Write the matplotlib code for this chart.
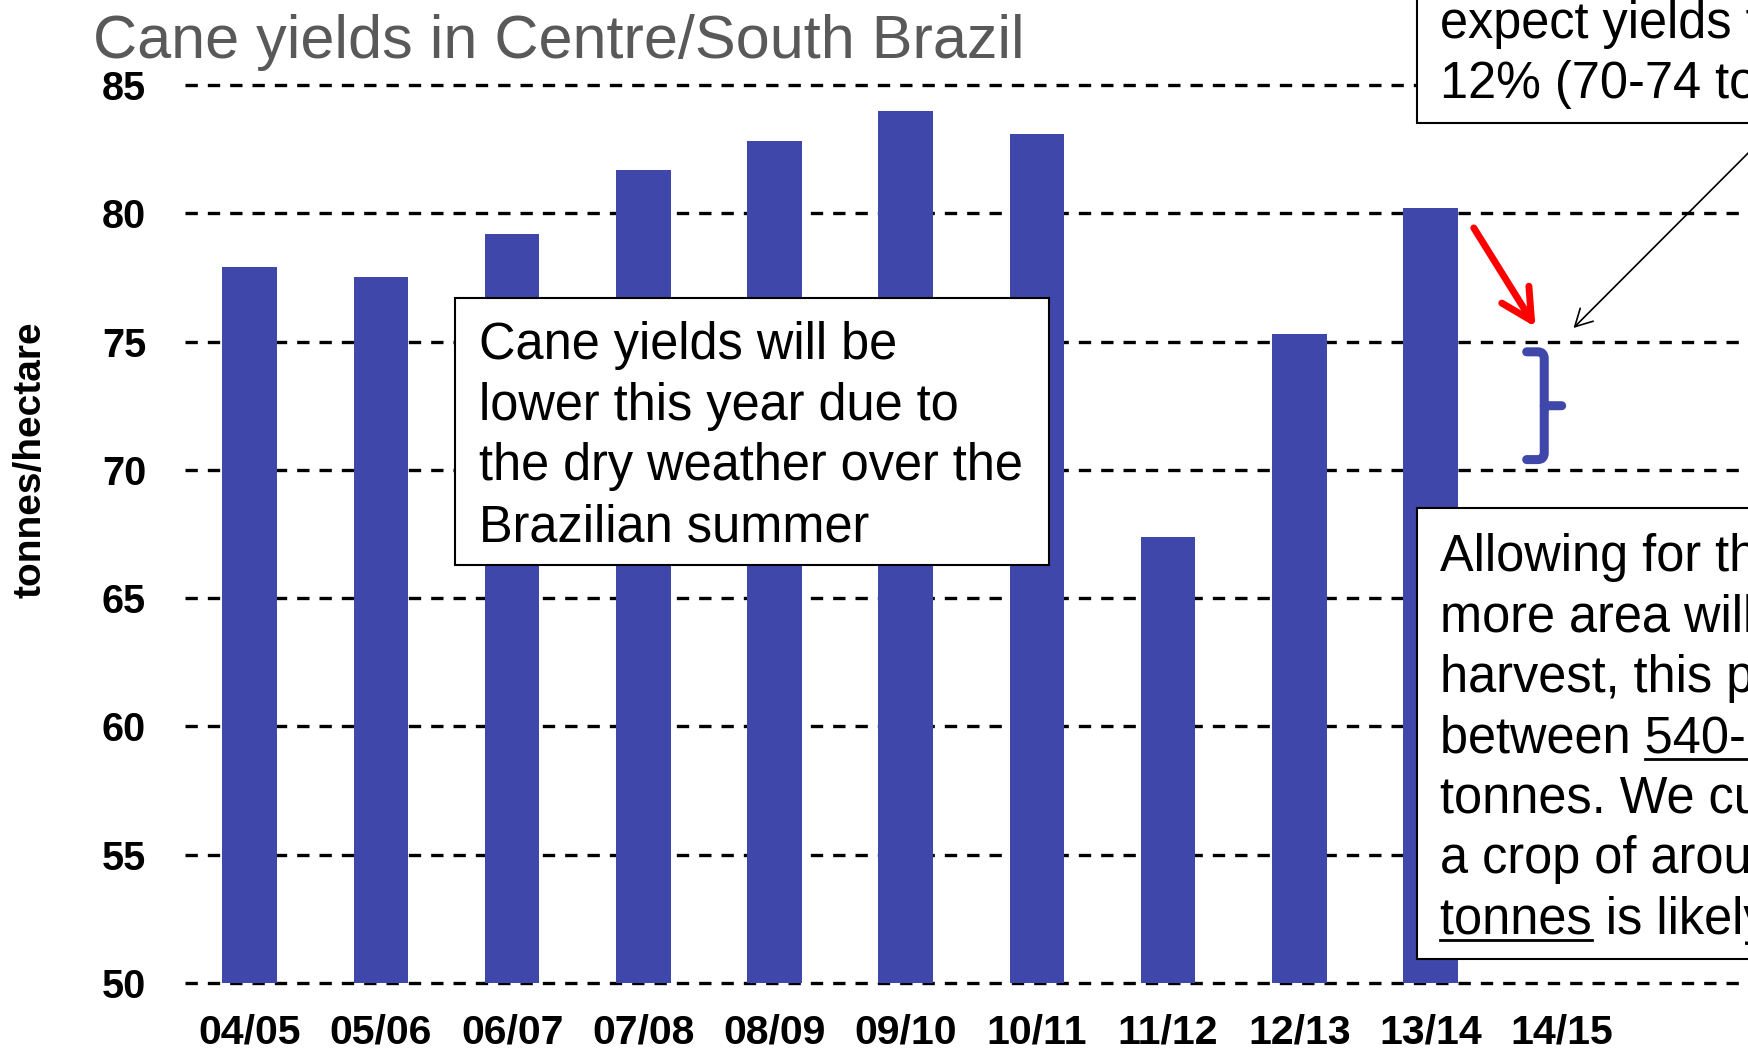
import numpy as np
import matplotlib
matplotlib.use("Agg")
import matplotlib.pyplot as plt
from matplotlib.patches import Rectangle, PathPatch
from matplotlib.path import Path
from matplotlib.lines import Line2D

plt.rcParams["font.family"] = ["Liberation Sans", "DejaVu Sans"]

# Centre/South Brazil cane yields (tonnes/hectare) by crop season
seasons = ["04/05", "05/06", "06/07", "07/08", "08/09", "09/10",
           "10/11", "11/12", "12/13", "13/14", "14/15"]
yields = [77.9, 77.5, 79.2, 81.7, 82.8, 84.0, 83.1, 67.4, 75.3, 80.2]
y_ticks = [50, 55, 60, 65, 70, 75, 80, 85]
brace_span = (70.4, 74.6)   # 14/15 forecast band (70-74 t/ha)

BAR_COLOR = "#3F48AA"
W, H = 1748, 1050

fig = plt.figure(figsize=(W / 100, H / 100), dpi=100)
ax = fig.add_axes([185 / W, 1 - 983 / H, (W - 185) / W, (983 - 85) / H])

x = np.arange(len(seasons))
ax.set_xlim(-0.493, 11.42)
ax.set_ylim(y_ticks[0], y_ticks[-1])

# dashed horizontal reference lines
for yv in y_ticks:
    ax.axhline(yv, color="black", lw=2.4, linestyle=(0, (3.7, 3.0)),
               zorder=1, clip_on=False)

ax.bar(x[:len(yields)], np.array(yields) - y_ticks[0], bottom=y_ticks[0],
       width=0.417, color=BAR_COLOR, zorder=2)

ax.set_xticks(x)
ax.set_xticklabels(seasons, fontsize=29.5, fontweight="bold")
ax.set_yticks(y_ticks)
ax.set_yticklabels([str(v) for v in y_ticks], fontsize=28.5, fontweight="bold")
ax.tick_params(axis="x", length=0, pad=22)
ax.tick_params(axis="y", length=0, pad=28)
for s in ax.spines.values():
    s.set_visible(False)

# forecast brace for 14/15
bx0, bx1, bx2 = 9.733, 9.867, 10.0
lo, hi = brace_span
mid = (lo + hi) / 2
verts = [(bx0, hi), (bx1 - 0.05, hi), (bx1, hi), (bx1, hi - 0.26),
         (bx1, lo + 0.26), (bx1, lo), (bx1 - 0.05, lo), (bx0, lo),
         (bx1, mid), (bx2, mid)]
codes = [Path.MOVETO, Path.LINETO, Path.CURVE3, Path.CURVE3,
         Path.LINETO, Path.CURVE3, Path.CURVE3, Path.LINETO,
         Path.MOVETO, Path.LINETO]
ax.add_patch(PathPatch(Path(verts, codes), facecolor="none", edgecolor=BAR_COLOR,
                       lw=6.5, capstyle="round", joinstyle="round",
                       zorder=4, clip_on=False))

# arrows pointing at the forecast
ax.annotate("", xy=(9.80, 75.57), xytext=(9.33, 79.43), annotation_clip=False,
            arrowprops=dict(arrowstyle="->,head_length=2.2,head_width=1.15",
                            color="red", lw=5, mutation_scale=10,
                            shrinkA=0, shrinkB=0, capstyle="round",
                            joinstyle="round"), zorder=4)
ax.annotate("", xy=(10.09, 75.53), xytext=(11.65, 83.52), annotation_clip=False,
            arrowprops=dict(arrowstyle="->,head_length=1.22,head_width=0.66",
                            color="black", lw=1.2, mutation_scale=10,
                            shrinkA=0, shrinkB=0), zorder=4)

# title and axis label
fig.text(93 / W, 1 - 58 / H, "Cane yields in Centre/South Brazil",
         fontsize=44, color="#595959", va="baseline", ha="left")
fig.text(31 / W, 1 - 460 / H, "tonnes/hectare", rotation=90, ha="center",
         va="center", fontsize=28, fontweight="bold")

renderer = fig.canvas.get_renderer()
FS = 36.4


def text_width(s):
    t = fig.text(0, 0, s, fontsize=FS)
    w = t.get_window_extent(renderer).width
    t.remove()
    return w


def advance(prefix):
    if not prefix:
        return 0.0
    return text_width(prefix + "x") - text_width("x")


def add_box(x0, top, x1, bottom):
    fig.add_artist(Rectangle((x0 / W, 1 - bottom / H), (x1 - x0) / W,
                             (bottom - top) / H, transform=fig.transFigure,
                             facecolor="white", edgecolor="black", lw=1.5,
                             zorder=5))


def add_lines(x0, first_baseline, spacing, lines):
    for i, segs in enumerate(lines):
        if isinstance(segs, str):
            segs = [(segs, False)]
        base = first_baseline + i * spacing
        full = "".join(s for s, _ in segs)
        fig.text(x0 / W, 1 - base / H, full, fontsize=FS, ha="left",
                 va="baseline", zorder=6)
        pos = ""
        for s, ul in segs:
            if ul:
                xs = x0 + advance(pos)
                xe = xs + text_width(s)
                fig.add_artist(Line2D([xs / W, xe / W],
                                      [1 - (base + 6) / H, 1 - (base + 6) / H],
                                      transform=fig.transFigure, color="black",
                                      lw=2, zorder=6))
            pos += s


# commentary boxes
add_box(455, 298, 1049, 565)
add_lines(479, 359, 60.7, ["Cane yields will be",
                           "lower this year due to",
                           "the dry weather over the",
                           "Brazilian summer"])

add_box(1417, -120, 2200, 123)
add_lines(1440, -22, 60, ["We currently",
                          "expect yields to fall by 8-",
                          "12% (70-74 tonnes/hectare)"])

add_box(1417, 508, 2200, 959)
add_lines(1440, 571, 60.5, [
    "Allowing for the fact that",
    "more area will be available for",
    "harvest, this points to a crop",
    [("between ", False), ("540-570 million", True)],
    "tonnes. We currently think",
    [("a crop of around ", False), ("555 million", True)],
    [("tonnes", True), (" is likely", False)],
])

fig.savefig("out.png", dpi=100)
